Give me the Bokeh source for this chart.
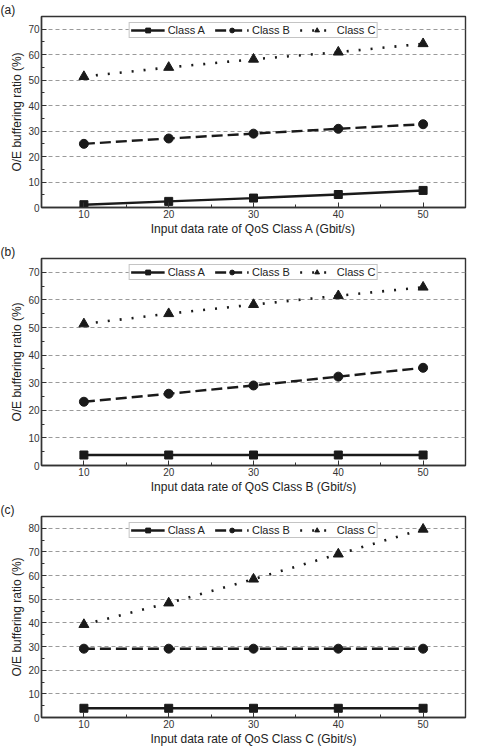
from bokeh.plotting import figure
from bokeh.layouts import column
from bokeh.models import FixedTicker, Legend, LegendItem, Range1d
from bokeh.embed import file_html
from bokeh.resources import INLINE

# ---------------- data ----------------
rates = [10, 20, 30, 40, 50]

a_class_a = [1.1, 2.4, 3.7, 5.1, 6.7]
a_class_b = [25.0, 27.1, 29.0, 30.9, 32.7]
a_class_c = [51.4, 55.0, 58.2, 61.0, 64.3]

b_class_a = [3.8, 3.8, 3.8, 3.8, 3.8]
b_class_b = [23.1, 26.0, 29.0, 32.2, 35.4]
b_class_c = [51.3, 55.0, 58.3, 61.5, 64.6]

c_class_a = [3.9, 3.9, 3.9, 3.9, 3.9]
c_class_b = [29.1, 29.1, 29.1, 29.1, 29.1]
c_class_c = [39.3, 48.4, 58.5, 69.1, 79.6]

x_ticks = [10, 20, 30, 40, 50]
x_minor = [15, 25, 35, 45]
y_ticks_ab = [0, 10, 20, 30, 40, 50, 60, 70]
y_minor_ab = [5, 15, 25, 35, 45, 55, 65]
y_ticks_c = [0, 10, 20, 30, 40, 50, 60, 70, 80]
y_minor_c = [5, 15, 25, 35, 45, 55, 65, 75]

panel_labels = ["(a)", "(b)", "(c)"]
x_titles = ["Input data rate of QoS Class A (Gbit/s)",
            "Input data rate of QoS Class B (Gbit/s)",
            "Input data rate of QoS Class C (Gbit/s)"]
y_title = "O/E buffering ratio (%)"
series_names = ["Class A", "Class B", "Class C"]

FONT = "Liberation Sans"
INK = "#1a1a1a"
AXC = "#333333"


def make_panel(label, xtitle, ya, yb, yc, yticks, yminor, ymax, height, top):
    p = figure(width=469, height=height, output_backend="svg", toolbar_location=None,
               title=label,
               x_range=Range1d(5, 55), y_range=Range1d(0, ymax),
               min_border_left=41, min_border_right=4, min_border_top=top,
               min_border_bottom=0)
    p.title.align = "left"
    p.title.offset = -41
    p.title.standoff = 0
    p.title.text_font = FONT
    p.title.text_font_size = "12px"
    p.title.text_font_style = "normal"
    p.title.text_color = "#222222"
    p.title.text_line_height = 1.0

    p.outline_line_color = AXC
    p.outline_line_width = 1.4
    p.background_fill_color = "white"

    for ax in (p.xaxis[0], p.yaxis[0]):
        ax.axis_line_color = AXC
        ax.axis_line_width = 1.4
        ax.major_tick_line_color = AXC
        ax.minor_tick_line_color = AXC
        ax.major_tick_in = 5
        ax.major_tick_out = 0
        ax.minor_tick_in = 3
        ax.minor_tick_out = 0
        ax.major_label_text_font = FONT
        ax.major_label_text_font_size = "10px"
        ax.major_label_text_color = AXC
        ax.axis_label_text_font = FONT
        ax.axis_label_text_font_size = "12px"
        ax.axis_label_text_font_style = "normal"
        ax.axis_label_text_color = "#222222"
        ax.major_label_standoff = 2
        ax.axis_label_standoff = 1

    p.xaxis[0].ticker = FixedTicker(ticks=x_ticks, minor_ticks=x_minor)
    p.yaxis[0].ticker = FixedTicker(ticks=yticks, minor_ticks=yminor)
    p.xaxis[0].axis_label = xtitle
    p.yaxis[0].axis_label = y_title

    p.xgrid.visible = False
    p.ygrid.grid_line_color = "#9a9a9a"
    p.ygrid.grid_line_dash = "4 3"
    p.ygrid.grid_line_width = 1

    la = p.line(rates, ya, line_color=INK, line_width=2.4)
    ma = p.scatter(rates, ya, marker="square", size=8, fill_color=INK, line_color=INK)
    lb = p.line(rates, yb, line_color=INK, line_width=2.4, line_dash="11 5")
    mb = p.scatter(rates, yb, marker="circle", size=9, fill_color=INK, line_color=INK)
    lc = p.line(rates, yc, line_color=INK, line_width=2.6, line_dash="2 10")
    mc = p.scatter(rates, yc, marker="triangle", size=10, fill_color=INK, line_color=INK)

    legend = Legend(items=[LegendItem(label=series_names[0], renderers=[la, ma]),
                           LegendItem(label=series_names[1], renderers=[lb, mb]),
                           LegendItem(label=series_names[2], renderers=[lc, mc])],
                    orientation="horizontal", location="top_center")
    legend.border_line_color = "#8a8a8a"
    legend.border_line_width = 1
    legend.background_fill_color = "white"
    legend.background_fill_alpha = 1
    legend.padding = 1
    legend.margin = 6
    legend.spacing = 10
    legend.glyph_width = 34
    legend.glyph_height = 12
    legend.label_height = 12
    legend.label_standoff = 3
    legend.label_text_font = FONT
    legend.label_text_font_size = "11px"
    legend.label_text_color = "#222222"
    p.add_layout(legend)
    return p


pa = make_panel(panel_labels[0], x_titles[0], a_class_a, a_class_b, a_class_c,
                y_ticks_ab, y_minor_ab, 75, 238, 0)
pb = make_panel(panel_labels[1], x_titles[1], b_class_a, b_class_b, b_class_c,
                y_ticks_ab, y_minor_ab, 75, 258, 20)
pc = make_panel(panel_labels[2], x_titles[2], c_class_a, c_class_b, c_class_c,
                y_ticks_c, y_minor_c, 85, 252, 20)

layout = column(pa, pb, pc, spacing=0)

open("out.html", "w").write(file_html(layout, INLINE))
